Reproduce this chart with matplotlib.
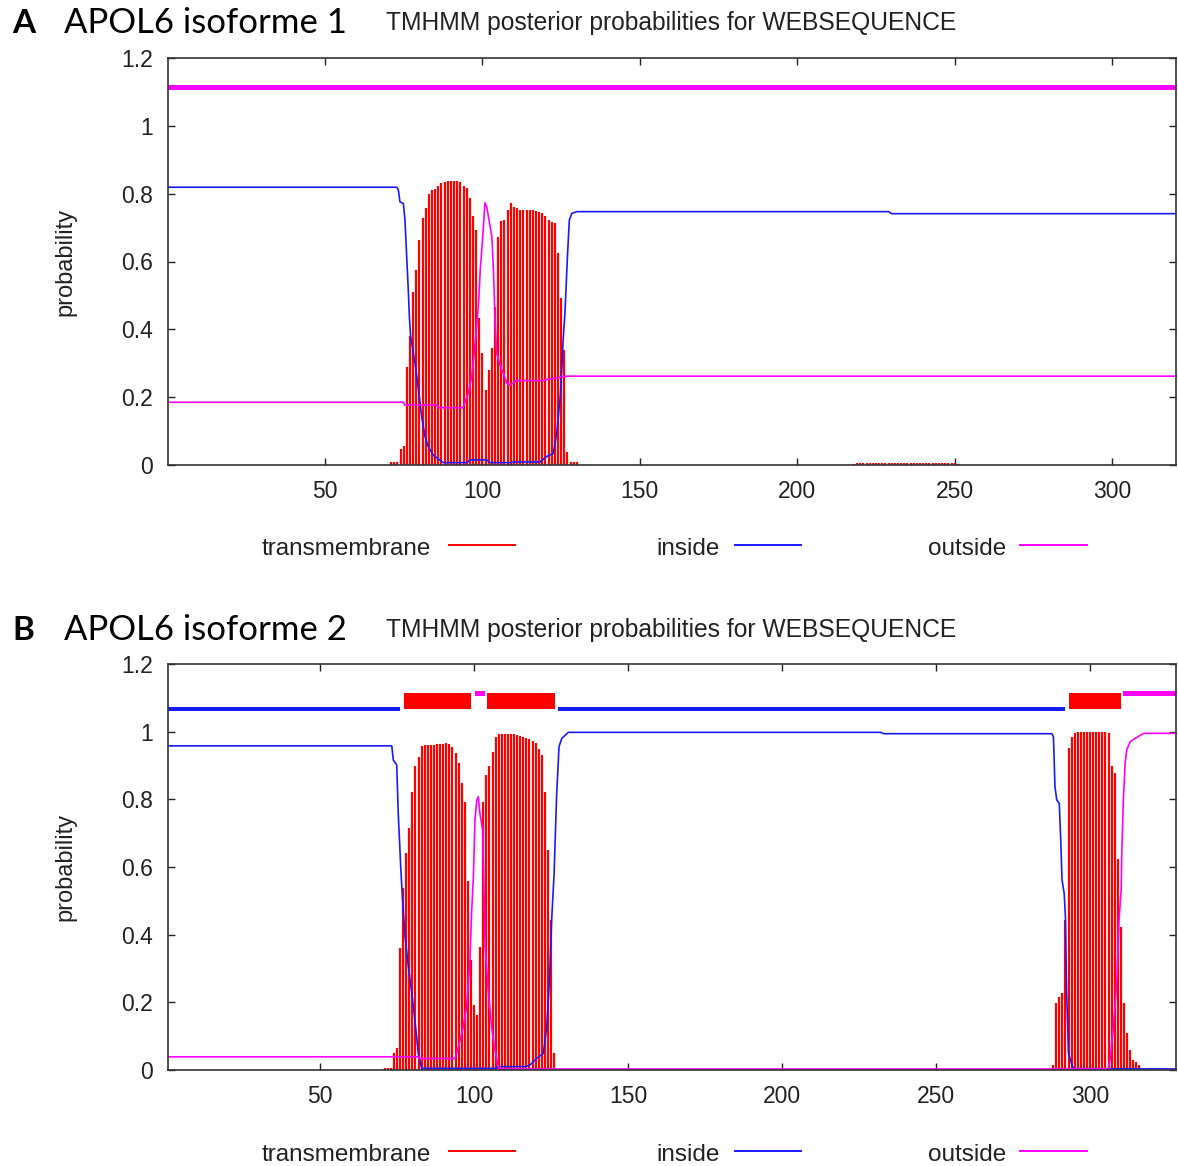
import matplotlib.pyplot as plt
from matplotlib.lines import Line2D

plt.rcParams['font.family'] = ['Liberation Sans', 'DejaVu Sans']

# ---------------- panel A : APOL6 isoforme 1 ----------------
a_xlim = (0.13, 320.3)

# transmembrane posterior, one value per residue
a_tm_start = 71
a_tm = [0.01, 0.01, 0.01, 0.046, 0.056, 0.29, 0.38, 0.51, 0.575, 0.664,
        0.728, 0.757, 0.80, 0.81, 0.815, 0.824, 0.831, 0.834, 0.836, 0.836,
        0.836, 0.836, 0.834, 0.824, 0.816, 0.787, 0.733, 0.693, 0.433, 0.33,
        0.22, 0.28, 0.345, 0.467, 0.673, 0.718, 0.723, 0.752, 0.772, 0.762,
        0.757, 0.752, 0.752, 0.752, 0.752, 0.752, 0.750, 0.747, 0.743, 0.733,
        0.722, 0.716, 0.713, 0.625, 0.492, 0.339, 0.039, 0.01, 0.01, 0.01]
a_tm2_start = 218
a_tm2 = [0.004, 0.005, 0.005, 0.005, 0.005, 0.005, 0.005, 0.005, 0.005, 0.005,
         0.005, 0.005, 0.005, 0.005, 0.005, 0.005, 0.005, 0.005, 0.005, 0.005,
         0.005, 0.005, 0.005, 0.005, 0.005, 0.005, 0.005, 0.005, 0.005, 0.005,
         0.005, 0.005, 0.005, 0.004]

a_in_x = [0.13, 72.8, 73.3, 73.8, 74.9, 75.4, 76.0, 76.5, 76.8, 77.2, 78.6, 79.7,
          80.7, 81.8, 82.8, 84.4, 87.6, 95.0, 96.1, 101.4, 102.4, 109.3, 109.8,
          118.3, 120.4, 122.5, 123.6, 124.7, 125.2, 125.7, 126.2, 127.0, 127.6,
          128.4, 130.0, 229.0, 230.0, 320.3]
a_in_y = [0.819, 0.819, 0.811, 0.776, 0.771, 0.722, 0.604, 0.506, 0.437, 0.378,
          0.30, 0.221, 0.142, 0.083, 0.054, 0.029, 0.007, 0.007, 0.015, 0.015,
          0.007, 0.007, 0.009, 0.009, 0.025, 0.034, 0.093, 0.201, 0.28, 0.378,
          0.447, 0.614, 0.722, 0.742, 0.747, 0.747, 0.741, 0.741]

a_out_x = [0.13, 74.9, 75.3, 85.5, 85.9, 93.8, 94.3, 95.5, 96.6, 97.7, 98.8, 99.3,
           100.1, 100.8, 101.4, 101.9, 103.0, 103.5, 104.0, 104.5, 105.6, 106.6,
           107.7, 108.8, 110.9, 119.4, 120.4, 125.7, 127.0, 320.3]
a_out_y = [0.185, 0.185, 0.177, 0.177, 0.169, 0.169, 0.18, 0.212, 0.26, 0.36,
           0.478, 0.575, 0.673, 0.773, 0.76, 0.733, 0.673, 0.575, 0.428, 0.33,
           0.295, 0.271, 0.242, 0.236, 0.249, 0.249, 0.252, 0.26, 0.262, 0.262]

# predicted topology bar above the curves (start, end)
a_top_in = []
a_top_tm = []
a_top_out = [(0.13, 320.3)]

# ---------------- panel B : APOL6 isoforme 2 ----------------
b_xlim = (0.65, 327.9)

b_tm_start = 71
b_tm = [0.005, 0.005, 0.005, 0.049, 0.064, 0.36, 0.537, 0.64, 0.714, 0.823,
        0.9, 0.926, 0.958, 0.96, 0.96, 0.96, 0.96, 0.963, 0.963, 0.963,
        0.966, 0.963, 0.956, 0.936, 0.906, 0.847, 0.793, 0.56, 0.325, 0.192,
        0.163, 0.364, 0.793, 0.872, 0.9, 0.941, 0.985, 0.993, 0.993, 0.993,
        0.993, 0.993, 0.993, 0.99, 0.988, 0.985, 0.98, 0.978, 0.973, 0.966,
        0.95, 0.93, 0.823, 0.65, 0.443, 0.049]
b_tm2_start = 288
b_tm2 = [0.015, 0.197, 0.217, 0.227, 0.443, 0.951, 0.985, 0.995, 1.0, 1.0,
         1.0, 1.0, 1.0, 1.0, 1.0, 1.0, 1.0, 1.0, 0.995, 0.899,
         0.878, 0.623, 0.424, 0.197, 0.11, 0.059, 0.03, 0.025, 0.015]

b_in_x = [0.65, 73.3, 73.8, 74.9, 75.4, 76.2, 76.8, 77.6, 78.7, 79.8, 80.8, 81.9,
          83.0, 107.4, 107.8, 116.6, 118.2, 120.4, 122.5, 123.6, 124.5, 125.2,
          126.0, 126.8, 127.6, 128.5, 130.6, 232.0, 233.0, 287.6, 288.1, 288.3,
          288.6, 289.2, 290.0, 290.5, 290.9, 291.6, 292.0, 292.4, 293.0, 294.1,
          294.6, 327.9]
b_in_y = [0.958, 0.958, 0.916, 0.902, 0.759, 0.601, 0.503, 0.394, 0.305, 0.227,
          0.148, 0.049, 0.005, 0.005, 0.01, 0.01, 0.015, 0.035, 0.049, 0.128,
          0.266, 0.443, 0.581, 0.808, 0.956, 0.98, 0.998, 0.998, 0.994, 0.994,
          0.985, 0.931, 0.837, 0.798, 0.788, 0.675, 0.562, 0.522, 0.453, 0.227,
          0.049, 0.015, 0.004, 0.003]

b_out_x = [0.65, 81.9, 82.2, 93.8, 94.4, 95.5, 96.5, 97.6, 98.7, 99.2, 99.8,
           100.3, 100.9, 101.4, 101.9, 102.8, 103.2, 103.6, 104.7, 105.7, 106.8,
           107.9, 108.5, 305.9, 306.5, 307.6, 308.7, 309.4, 310.1, 310.3, 310.8,
           311.4, 311.9, 313.0, 314.6, 317.3, 327.9]
b_out_y = [0.039, 0.039, 0.034, 0.034, 0.049, 0.089, 0.128, 0.187, 0.325, 0.463,
           0.571, 0.739, 0.798, 0.808, 0.759, 0.709, 0.542, 0.364, 0.227, 0.128,
           0.059, 0.01, 0.003, 0.003, 0.03, 0.128, 0.266, 0.443, 0.532, 0.64,
           0.798, 0.907, 0.946, 0.97, 0.98, 0.995, 0.995]

b_top_in = [(0.65, 76.0), (127.2, 291.9)]
b_top_tm = [(77.4, 99.0), (104.1, 126.3), (293.3, 310.1)]
b_top_out = [(100.3, 103.6), (310.8, 327.9)]

xtick_vals = [50, 100, 150, 200, 250, 300]
ytick_vals = [0, 0.2, 0.4, 0.6, 0.8, 1.0, 1.2]
ytick_text = ['0', '0.2', '0.4', '0.6', '0.8', '1', '1.2']
legend_names = ['transmembrane', 'inside', 'outside']

RED = '#ff0000'
BLUE = '#1a1aff'
MAG = '#ff00ff'
TXT = '#222222'
W, H = 1178, 1166


def draw_panel(ax, xlim, tm_sets, in_x, in_y, out_x, out_y, top_in, top_tm, top_out):
    # topology strip
    ax.broken_barh([(s, e - s) for s, e in top_in], (1.061, 0.013), color=BLUE, lw=0)
    ax.broken_barh([(s, e - s) for s, e in top_tm], (1.066, 0.048), color=RED, lw=0)
    ax.broken_barh([(s, e - s) for s, e in top_out], (1.105, 0.015), color=MAG, lw=0)
    # per-residue transmembrane impulses
    for start, vals in tm_sets:
        xs = list(range(start, start + len(vals)))
        ax.vlines(xs, 0, vals, colors=RED, lw=1.6)
    ax.plot(in_x, in_y, color=BLUE, lw=1.2)
    ax.plot(out_x, out_y, color=MAG, lw=1.2)

    ax.set_xlim(*xlim)
    ax.set_ylim(0, 1.2)
    ax.set_xticks(xtick_vals)
    ax.set_yticks(ytick_vals)
    ax.set_yticklabels(ytick_text)
    ax.tick_params(direction='in', length=5, width=1, top=True, right=True,
                   labelsize=16.5, labelcolor=TXT, pad=11, color='#222222')
    for sp in ax.spines.values():
        sp.set_color('#333333')
        sp.set_linewidth(1.2)
    ax.set_ylabel('probability', fontsize=17, color=TXT, labelpad=32)


def header(y_base, letter, name):
    fig.text(12 / W, 1 - y_base / H, letter, fontsize=24, fontweight='bold',
             family=['Lato', 'DejaVu Sans'], va='baseline', color='black')
    fig.text(64 / W, 1 - y_base / H, name, fontsize=25,
             family=['Lato', 'DejaVu Sans'], va='baseline', color='black')
    fig.text(386 / W, 1 - (y_base - 3) / H, 'TMHMM posterior probabilities for WEBSEQUENCE',
             fontsize=17.7, va='baseline', color=TXT)


def legend_row(y_base):
    ly = 1 - (y_base - 10) / H
    pos = [(262, 449, 515, RED), (656, 735, 801, BLUE), (928, 1020, 1087, MAG)]
    for name, (tx, l0, l1, c) in zip(legend_names, pos):
        fig.text(tx / W, 1 - y_base / H, name, fontsize=17.5, va='baseline', color=TXT)
        fig.add_artist(Line2D([l0 / W, l1 / W], [ly, ly], color=c, lw=1.4,
                              transform=fig.transFigure))


fig = plt.figure(figsize=(11.78, 11.66), dpi=100)

axA = fig.add_axes([168 / W, 1 - 465 / H, (1176 - 168) / W, (465 - 58) / H])
draw_panel(axA, a_xlim, [(a_tm_start, a_tm), (a_tm2_start, a_tm2)],
           a_in_x, a_in_y, a_out_x, a_out_y, a_top_in, a_top_tm, a_top_out)

axB = fig.add_axes([168 / W, 1 - 1070 / H, (1176 - 168) / W, (1070 - 664) / H])
draw_panel(axB, b_xlim, [(b_tm_start, b_tm), (b_tm2_start, b_tm2)],
           b_in_x, b_in_y, b_out_x, b_out_y, b_top_in, b_top_tm, b_top_out)

header(33, 'A', 'APOL6 isoforme 1')
header(640, 'B', 'APOL6 isoforme 2')
legend_row(555)
legend_row(1161)

fig.savefig('out.png', dpi=100, facecolor='white')
